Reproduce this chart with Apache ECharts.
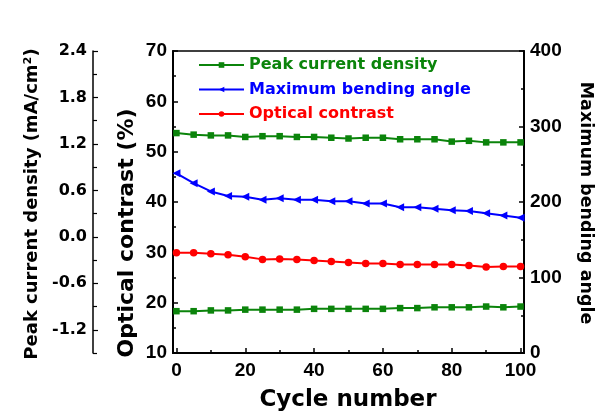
<!DOCTYPE html>
<html>
<head>
<meta charset="utf-8">
<title>Cycling stability</title>
<script src="https://cdn.jsdelivr.net/npm/echarts@6/dist/echarts.min.js"></script>
<style>
  html, body { margin: 0; padding: 0; background: #fff; }
  #chart { width: 603px; height: 418px; }
</style>
</head>
<body>
<div id="chart"></div>
<script>
// Cycle numbers (x axis)
const cycles = [0, 5, 10, 15, 20, 25, 30, 35, 40, 45, 50, 55, 60, 65, 70, 75, 80, 85, 90, 95, 100];

// Peak current density, mA/cm² (anodic and cathodic peaks)
const peakAnodic = [1.34, 1.32, 1.31, 1.31, 1.29, 1.30, 1.30, 1.29, 1.29, 1.28, 1.27,
                    1.28, 1.28, 1.26, 1.26, 1.26, 1.23, 1.24, 1.22, 1.22, 1.22];
const peakCathodic = [-0.96, -0.96, -0.95, -0.95, -0.94, -0.94, -0.94, -0.94, -0.93, -0.93, -0.93,
                      -0.93, -0.93, -0.92, -0.92, -0.91, -0.91, -0.91, -0.90, -0.91, -0.90];

// Maximum bending angle (degrees)
const bendingAngle = [238, 225, 214, 208, 207, 203, 205, 203, 203, 201, 201,
                      198, 198, 193, 193, 191, 189, 188, 185, 182, 179];

// Optical contrast (%)
const opticalContrast = [29.9, 29.9, 29.7, 29.5, 29.1, 28.6, 28.7, 28.6, 28.4, 28.2, 28.0,
                         27.8, 27.8, 27.6, 27.6, 27.6, 27.6, 27.4, 27.1, 27.2, 27.2];

// Tick positions
const xMajorTicks = [0, 20, 40, 60, 80, 100];
const xMinorTicks = [10, 30, 50, 70, 90];
const peakMajorTicks = [-1.2, -0.6, 0, 0.6, 1.2, 1.8, 2.4];
const peakMinorTicks = [-1.5, -0.9, -0.3, 0.3, 0.9, 1.5, 2.1];

const GREEN = '#0b840b';
const BLUE = '#0000ff';
const RED = '#ff0000';
const NAME_PEAK = 'Peak current density';
const NAME_ANGLE = 'Maximum bending angle';
const NAME_OC = 'Optical contrast';

const tickFont = { color: '#000', fontFamily: 'Liberation Sans, Arial', fontWeight: 'bold', fontSize: 19 };
const titleFont = 'DejaVu Sans, sans-serif';

const pairs = (ys) => cycles.map((c, i) => [c, ys[i]]);
const leftTriangle = 'path://M0,5L10,0L10,10Z';

const chart = echarts.init(document.getElementById('chart'), null, { renderer: 'canvas' });

chart.setOption({
  animation: false,
  backgroundColor: '#fff',
  grid: {
    left: 173, right: 79, top: 51, bottom: 65,
    show: true, borderColor: '#000', borderWidth: 1.5, backgroundColor: 'transparent'
  },
  legend: {
    orient: 'vertical',
    left: 198, top: 57, padding: 0,
    itemWidth: 45, itemHeight: 7, itemGap: 8.5,
    textStyle: { fontFamily: titleFont, fontWeight: 'bold', fontSize: 16, lineHeight: 16 },
    data: [
      { name: NAME_PEAK, textStyle: { color: GREEN } },
      { name: NAME_ANGLE, textStyle: { color: BLUE } },
      { name: NAME_OC, textStyle: { color: RED } }
    ]
  },
  xAxis: [
    {
      type: 'value', min: -1, max: 101, position: 'bottom',
      axisLine: { onZero: false, lineStyle: { color: '#000', width: 2 } },
      splitLine: { show: false },
      axisTick: { inside: true, length: 5, customValues: xMajorTicks, lineStyle: { color: '#000', width: 1.5 } },
      axisLabel: Object.assign({ customValues: xMajorTicks, margin: 8 }, tickFont)
    },
    {
      type: 'value', min: -1, max: 101, position: 'bottom',
      axisLine: { show: false, onZero: false },
      splitLine: { show: false },
      axisTick: { inside: true, length: 3, customValues: xMinorTicks, lineStyle: { color: '#000', width: 1.5 } },
      axisLabel: { show: false }
    }
  ],
  yAxis: [
    {
      // Optical contrast
      type: 'value', position: 'left', min: 10, max: 70, interval: 10,
      axisLine: { show: true, onZero: false, lineStyle: { color: '#000', width: 2 } },
      splitLine: { show: false },
      axisTick: { inside: true, length: 5, lineStyle: { color: '#000', width: 1.5 } },
      minorTick: { show: true, splitNumber: 2, length: 3, lineStyle: { color: '#000', width: 1.5 } },
      axisLabel: Object.assign({ margin: 6 }, tickFont)
    },
    {
      // Maximum bending angle
      type: 'value', position: 'right', min: 0, max: 400, interval: 100,
      axisLine: { show: true, onZero: false, lineStyle: { color: '#000', width: 2 } },
      splitLine: { show: false },
      axisTick: { inside: true, length: 5, lineStyle: { color: '#000', width: 1.5 } },
      minorTick: { show: true, splitNumber: 2, length: 3, lineStyle: { color: '#000', width: 1.5 } },
      axisLabel: Object.assign({ margin: 6 }, tickFont)
    },
    {
      // Peak current density (outer left axis)
      type: 'value', position: 'left', offset: 80, min: -1.5, max: 2.4,
      axisLine: { show: true, onZero: false, lineStyle: { color: '#000', width: 1.5 } },
      splitLine: { show: false },
      axisTick: { inside: true, length: 5, customValues: peakMajorTicks, lineStyle: { color: '#000', width: 1.2 } },
      axisLabel: {
        customValues: peakMajorTicks, margin: 6,
        formatter: (v) => v.toFixed(1),
        color: '#000', fontFamily: titleFont, fontWeight: 'bold', fontSize: 16
      }
    },
    {
      // minor ticks for the outer axis
      type: 'value', position: 'left', offset: 80, min: -1.5, max: 2.4,
      axisLine: { show: false, onZero: false },
      splitLine: { show: false },
      axisTick: { inside: true, length: 4, customValues: peakMinorTicks, lineStyle: { color: '#000', width: 1.2 } },
      axisLabel: { show: false }
    }
  ],
  graphic: [
    {
      type: 'text', x: 32, y: 204, rotation: Math.PI / 2,
      style: {
        text: 'Peak current density (mA/cm²)', fill: '#000',
        font: 'bold 18px ' + titleFont, align: 'center', verticalAlign: 'middle'
      }
    },
    {
      type: 'text', x: 127, y: 233, rotation: Math.PI / 2,
      style: {
        text: 'Optical contrast (%)', fill: '#000',
        font: 'bold 22px ' + titleFont, align: 'center', verticalAlign: 'middle'
      }
    },
    {
      type: 'text', x: 586, y: 203, rotation: -Math.PI / 2,
      style: {
        text: 'Maximum bending angle', fill: '#000',
        font: 'bold 17.5px ' + titleFont, align: 'center', verticalAlign: 'middle'
      }
    },
    {
      type: 'text', x: 348, y: 400,
      style: {
        text: 'Cycle number', fill: '#000',
        font: 'bold 23px ' + titleFont, align: 'center', verticalAlign: 'middle'
      }
    }
  ],
  series: [
    {
      name: NAME_PEAK, type: 'line', xAxisIndex: 0, yAxisIndex: 2,
      data: pairs(peakAnodic),
      symbol: 'rect', symbolSize: 6.5,
      lineStyle: { color: GREEN, width: 2 }, itemStyle: { color: GREEN }
    },
    {
      name: NAME_ANGLE, type: 'line', xAxisIndex: 0, yAxisIndex: 1,
      data: pairs(bendingAngle),
      symbol: leftTriangle, symbolSize: 8,
      lineStyle: { color: BLUE, width: 2 }, itemStyle: { color: BLUE }
    },
    {
      name: NAME_OC, type: 'line', xAxisIndex: 0, yAxisIndex: 0,
      data: pairs(opticalContrast),
      symbol: 'circle', symbolSize: 7.5,
      lineStyle: { color: RED, width: 2 }, itemStyle: { color: RED }
    },
    {
      name: NAME_PEAK, type: 'line', xAxisIndex: 0, yAxisIndex: 2,
      data: pairs(peakCathodic),
      symbol: 'rect', symbolSize: 6.5,
      lineStyle: { color: GREEN, width: 2 }, itemStyle: { color: GREEN }
    }
  ]
});
</script>
</body>
</html>
